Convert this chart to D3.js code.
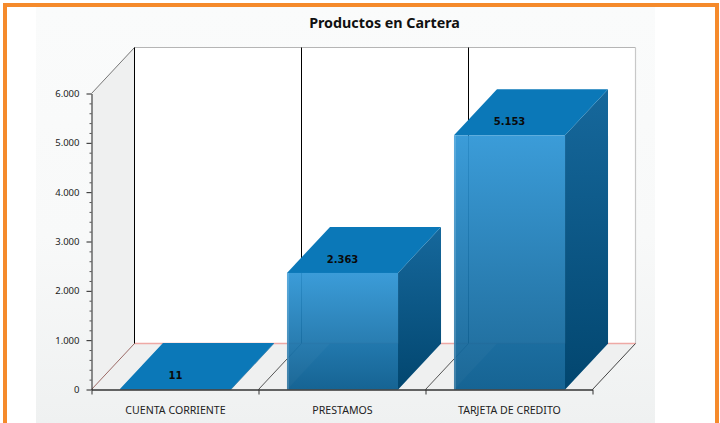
<!DOCTYPE html>
<html>
<head>
<meta charset="utf-8">
<script src="https://cdn.jsdelivr.net/npm/d3@7"></script>
<style>
  html, body { margin: 0; padding: 0; background: #fff; overflow: hidden; }
  .tick text { fill: #222; }
</style>
</head>
<body>
<svg id="chart" width="720" height="423"></svg>
<script>
// values
let categories = ["CUENTA CORRIENTE", "PRESTAMOS", "TARJETA DE CREDITO"];
let values = [11, 2363, 5153];
let value_labels = ["11", "2.363", "5.153"];
let y_ticks = [0, 1000, 2000, 3000, 4000, 5000, 6000];
let y_minor = [200, 400, 600, 800, 1200, 1400, 1600, 1800, 2200, 2400, 2600, 2800,
               3200, 3400, 3600, 3800, 4200, 4400, 4600, 4800, 5200, 5400, 5600, 5800];
let title_text = "Productos en Cartera";

let plot_left = 91.5, plot_right = 592.5;
let plot_top = 93.5, plot_bot = 389.5;
let depth_x = 43, depth_y = -46;

let svg = d3.select("#chart");
let defs = svg.append("defs");

let add_gradient = function (id, stops) {
  let g = defs.append("linearGradient").attr("id", id)
    .attr("x1", 0).attr("y1", 0).attr("x2", 0).attr("y2", 1);
  stops.forEach(s => g.append("stop").attr("offset", s[0]).attr("stop-color", s[1]));
};
add_gradient("panel_grad", [[0, "#fafbfb"], [0.55, "#f8f9f9"], [1, "#eff1f1"]]);
add_gradient("front_grad", [[0, "#2f96d6"], [1, "#0f5f90"]]);
add_gradient("side_grad", [[0, "#16689c"], [1, "#02466f"]]);

// page frame and panel
svg.append("rect").attr("x", 36).attr("y", 7).attr("width", 619).attr("height", 416)
  .attr("fill", "url(#panel_grad)");
svg.append("path")
  .attr("d", "M5,423V5H717V423")
  .attr("fill", "none").attr("stroke", "#f58a2b").attr("stroke-width", 4);

let x = d3.scaleBand().domain(categories).range([plot_left + 0.5, plot_right + 0.5])
  .paddingInner(0.335).paddingOuter(0.1675);
let x_edges = d3.scaleLinear().domain([0, categories.length]).range([plot_left, plot_right]);
let y = d3.scaleLinear().domain([0, 6000]).range([plot_bot, plot_top]);

let poly = function (pts) { return "M" + pts.map(p => p.join(",")).join("L") + "Z"; };

// back wall, side wall, floor
svg.append("rect")
  .attr("x", plot_left + depth_x).attr("y", plot_top + depth_y)
  .attr("width", plot_right - plot_left).attr("height", plot_bot - plot_top)
  .attr("fill", "#fff");
svg.append("path")
  .attr("d", poly([[plot_left, plot_top], [plot_left + depth_x, plot_top + depth_y],
                   [plot_left + depth_x, plot_bot + depth_y], [plot_left, plot_bot]]))
  .attr("fill", "#eff0f0");
svg.append("path")
  .attr("d", poly([[plot_left, plot_bot], [plot_left + depth_x, plot_bot + depth_y],
                   [plot_right + depth_x, plot_bot + depth_y], [plot_right, plot_bot]]))
  .attr("fill", "#eff0f0");

// wall borders
let line = function (x1, y1, x2, y2, color, width) {
  svg.append("line").attr("x1", x1).attr("y1", y1).attr("x2", x2).attr("y2", y2)
    .attr("stroke", color).attr("stroke-width", width || 1);
};
line(plot_left + depth_x, plot_top + depth_y, plot_right + depth_x, plot_top + depth_y, "#b5b5b5");
line(plot_right + depth_x, plot_top + depth_y, plot_right + depth_x, plot_bot + depth_y, "#c8c8c8", 1.2);
line(plot_left, plot_top, plot_left + depth_x, plot_top + depth_y, "#777");
line(plot_left + depth_x, plot_bot + depth_y, plot_right + depth_x, plot_bot + depth_y, "#eea9a5", 1.5);
line(plot_left, plot_bot, plot_left + depth_x, plot_bot + depth_y, "#9c6a66");
line(plot_right, plot_bot, plot_right + depth_x, plot_bot + depth_y, "#444");

// vertical grid on walls, with its run across the floor
d3.range(0, categories.length).forEach(function (i) {
  let gx = x_edges(i);
  line(gx + depth_x, plot_top + depth_y, gx + depth_x, plot_bot + depth_y, "#000");
  if (i > 0) line(gx, plot_bot, gx + depth_x, plot_bot + depth_y, "#555");
});

// bars
let bars = svg.selectAll("g.bar").data(categories).join("g").attr("class", "bar");
bars.each(function (c, i) {
  let g = d3.select(this);
  let x0 = x(c), x1 = x0 + x.bandwidth();
  let top = y(values[i]);
  g.append("path")
    .attr("d", poly([[x0, plot_bot], [x0 + depth_x, plot_bot + depth_y], [x1 + depth_x, plot_bot + depth_y], [x1, plot_bot]]))
    .attr("fill", "#0c6399").attr("fill-opacity", 0.45);
  g.append("path")
    .attr("d", poly([[x1, top], [x1 + depth_x, top + depth_y], [x1 + depth_x, plot_bot + depth_y], [x1, plot_bot]]))
    .attr("fill", "url(#side_grad)");
  g.append("path")
    .attr("d", poly([[x0, top], [x0 + depth_x, top + depth_y], [x1 + depth_x, top + depth_y], [x1, top]]))
    .attr("fill", "#0b78b8");
  g.append("rect")
    .attr("x", x0).attr("y", top).attr("width", x.bandwidth()).attr("height", plot_bot - top)
    .attr("fill", "url(#front_grad)").attr("fill-opacity", 0.94);
  // pale edge on the left of the front face
  g.append("rect")
    .attr("x", x0).attr("y", top).attr("width", 2).attr("height", plot_bot - top)
    .attr("fill", "#fff").attr("fill-opacity", 0.16);
  g.append("text")
    .attr("x", x0 + x.bandwidth() / 2).attr("y", top - 13.5).attr("dy", "0.35em")
    .attr("text-anchor", "middle")
    .style("font", "bold 10px 'DejaVu Sans'").attr("fill", "#0a0a0a")
    .text(value_labels[i]);
});

// axes
let fmt = v => d3.format(",")(v).replace(/,/g, ".");
let y_axis_minor = d3.axisLeft(y).tickValues(y_minor).tickSize(2).tickFormat("");
let g_minor = svg.append("g").attr("transform", "translate(" + plot_left + ",0)").call(y_axis_minor);
g_minor.selectAll(".tick line").attr("stroke", "#555");
g_minor.select(".domain").remove();

let y_axis = d3.axisLeft(y).tickValues(y_ticks).tickSize(5).tickPadding(7).tickSizeOuter(0).tickFormat(fmt);
let g_y = svg.append("g").attr("transform", "translate(" + plot_left + ",0)").call(y_axis);
g_y.select(".domain").attr("stroke", "#222");
g_y.selectAll(".tick line").attr("stroke", "#222");
g_y.selectAll("text").style("font", "9.5px 'Noto Sans'");

let x_axis = d3.axisBottom(x_edges).tickValues(d3.range(0, categories.length + 1))
  .tickSize(5).tickSizeOuter(0).tickFormat("");
let g_x = svg.append("g").attr("transform", "translate(0," + plot_bot + ")").call(x_axis);
g_x.select(".domain").attr("stroke", "#333").attr("stroke-width", 1.6);
g_x.selectAll(".tick line").attr("stroke", "#333");

svg.selectAll("text.cat").data(categories).join("text").attr("class", "cat")
  .attr("x", c => x(c) + x.bandwidth() / 2).attr("y", 410).attr("dy", "0.35em")
  .attr("text-anchor", "middle")
  .style("font", "10.6px 'Noto Sans'").attr("fill", "#222")
  .text(c => c);

svg.append("text").attr("x", 384.5).attr("y", 22.5).attr("dy", "0.35em")
  .attr("text-anchor", "middle")
  .style("font", "bold 14.3px 'Noto Sans'").attr("fill", "#111")
  .text(title_text);
</script>
</body>
</html>
